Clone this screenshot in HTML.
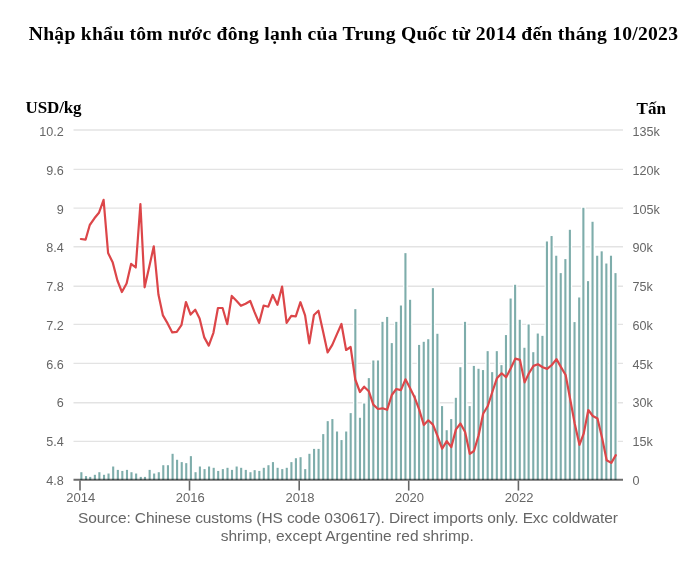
<!DOCTYPE html>
<html><head><meta charset="utf-8"><style>
html,body{margin:0;padding:0;background:#fff;}
body{width:700px;height:561px;overflow:hidden;position:relative;}
svg{position:absolute;left:0;top:0;will-change:transform;}
.t{font-family:"Liberation Sans",sans-serif;font-size:12.6px;fill:#666666;}
.h{font-family:"Liberation Serif",serif;font-weight:bold;fill:#000;}
.s{font-family:"Liberation Sans",sans-serif;font-size:15.5px;fill:#666666;}
</style></head><body>
<svg width="700" height="561" viewBox="0 0 700 561">
<text x="353.35" y="40.2" text-anchor="middle" class="h" style="font-size:19.6px" textLength="649.2" lengthAdjust="spacing">Nhập khẩu tôm nước đông lạnh của Trung Quốc từ 2014 đến tháng 10/2023</text>
<text x="25.6" y="113" class="h" style="font-size:17px" textLength="56.0" lengthAdjust="spacing">USD/kg</text>
<text x="636.6" y="114" class="h" style="font-size:17px" textLength="29.4" lengthAdjust="spacing">Tấn</text>
<line x1="73.5" x2="623" y1="130.00" y2="130.00" stroke="#e3e3e3" stroke-width="1.4"/>
<line x1="73.5" x2="623" y1="169.40" y2="169.40" stroke="#e3e3e3" stroke-width="1.4"/>
<line x1="73.5" x2="623" y1="208.10" y2="208.10" stroke="#e3e3e3" stroke-width="1.4"/>
<line x1="73.5" x2="623" y1="246.80" y2="246.80" stroke="#e3e3e3" stroke-width="1.4"/>
<line x1="73.5" x2="623" y1="286.30" y2="286.30" stroke="#e3e3e3" stroke-width="1.4"/>
<line x1="73.5" x2="623" y1="324.40" y2="324.40" stroke="#e3e3e3" stroke-width="1.4"/>
<line x1="73.5" x2="623" y1="363.35" y2="363.35" stroke="#e3e3e3" stroke-width="1.4"/>
<line x1="73.5" x2="623" y1="402.80" y2="402.80" stroke="#e3e3e3" stroke-width="1.4"/>
<line x1="73.5" x2="623" y1="441.35" y2="441.35" stroke="#e3e3e3" stroke-width="1.4"/>
<g fill="#7eadab" stroke="#fff" stroke-width="2.6" paint-order="stroke"><rect x="80.32" y="472.22" width="2.1" height="7.78"/><rect x="84.97" y="476.11" width="2.1" height="3.89"/><rect x="89.17" y="476.89" width="2.1" height="3.11"/><rect x="93.82" y="474.81" width="2.1" height="5.19"/><rect x="98.32" y="472.22" width="2.1" height="7.78"/><rect x="102.98" y="474.81" width="2.1" height="5.19"/><rect x="107.48" y="473.52" width="2.1" height="6.48"/><rect x="112.13" y="466.52" width="2.1" height="13.48"/><rect x="116.78" y="469.89" width="2.1" height="10.11"/><rect x="121.28" y="470.93" width="2.1" height="9.07"/><rect x="125.93" y="469.89" width="2.1" height="10.11"/><rect x="130.43" y="472.22" width="2.1" height="7.78"/><rect x="135.08" y="473.52" width="2.1" height="6.48"/><rect x="139.73" y="476.89" width="2.1" height="3.11"/><rect x="143.93" y="476.89" width="2.1" height="3.11"/><rect x="148.59" y="469.89" width="2.1" height="10.11"/><rect x="153.09" y="473.52" width="2.1" height="6.48"/><rect x="157.74" y="472.22" width="2.1" height="7.78"/><rect x="162.24" y="465.22" width="2.1" height="14.78"/><rect x="166.89" y="465.22" width="2.1" height="14.78"/><rect x="171.54" y="453.81" width="2.1" height="26.19"/><rect x="176.04" y="459.78" width="2.1" height="20.22"/><rect x="180.69" y="462.11" width="2.1" height="17.89"/><rect x="185.19" y="463.15" width="2.1" height="16.85"/><rect x="189.84" y="456.15" width="2.1" height="23.85"/><rect x="194.50" y="472.22" width="2.1" height="7.78"/><rect x="198.85" y="466.52" width="2.1" height="13.48"/><rect x="203.50" y="469.11" width="2.1" height="10.89"/><rect x="208.00" y="466.52" width="2.1" height="13.48"/><rect x="212.65" y="467.81" width="2.1" height="12.19"/><rect x="217.15" y="470.93" width="2.1" height="9.07"/><rect x="221.80" y="469.11" width="2.1" height="10.89"/><rect x="226.45" y="467.81" width="2.1" height="12.19"/><rect x="230.95" y="469.89" width="2.1" height="10.11"/><rect x="235.61" y="466.52" width="2.1" height="13.48"/><rect x="240.11" y="467.81" width="2.1" height="12.19"/><rect x="244.76" y="469.89" width="2.1" height="10.11"/><rect x="249.41" y="472.22" width="2.1" height="7.78"/><rect x="253.61" y="470.15" width="2.1" height="9.85"/><rect x="258.26" y="470.93" width="2.1" height="9.07"/><rect x="262.76" y="467.81" width="2.1" height="12.19"/><rect x="267.41" y="465.22" width="2.1" height="14.78"/><rect x="271.91" y="462.11" width="2.1" height="17.89"/><rect x="276.56" y="467.81" width="2.1" height="12.19"/><rect x="281.22" y="469.11" width="2.1" height="10.89"/><rect x="285.72" y="467.81" width="2.1" height="12.19"/><rect x="290.37" y="462.11" width="2.1" height="17.89"/><rect x="294.87" y="458.22" width="2.1" height="21.78"/><rect x="299.52" y="457.19" width="2.1" height="22.81"/><rect x="304.17" y="469.11" width="2.1" height="10.89"/><rect x="308.37" y="453.81" width="2.1" height="26.19"/><rect x="313.02" y="448.89" width="2.1" height="31.11"/><rect x="317.52" y="448.89" width="2.1" height="31.11"/><rect x="322.18" y="434.11" width="2.1" height="45.89"/><rect x="326.68" y="421.15" width="2.1" height="58.85"/><rect x="331.33" y="419.07" width="2.1" height="60.93"/><rect x="335.98" y="431.52" width="2.1" height="48.48"/><rect x="340.48" y="440.07" width="2.1" height="39.93"/><rect x="345.13" y="431.52" width="2.1" height="48.48"/><rect x="349.63" y="413.11" width="2.1" height="66.89"/><rect x="354.28" y="309.15" width="2.1" height="170.85"/><rect x="358.93" y="417.78" width="2.1" height="62.22"/><rect x="363.13" y="403.52" width="2.1" height="76.48"/><rect x="367.79" y="378.11" width="2.1" height="101.89"/><rect x="372.29" y="360.48" width="2.1" height="119.52"/><rect x="376.94" y="360.48" width="2.1" height="119.52"/><rect x="381.44" y="321.85" width="2.1" height="158.15"/><rect x="386.09" y="316.93" width="2.1" height="163.07"/><rect x="390.74" y="343.11" width="2.1" height="136.89"/><rect x="395.24" y="321.85" width="2.1" height="158.15"/><rect x="399.89" y="305.52" width="2.1" height="174.48"/><rect x="404.39" y="253.15" width="2.1" height="226.85"/><rect x="409.04" y="299.81" width="2.1" height="180.19"/><rect x="413.70" y="395.48" width="2.1" height="84.52"/><rect x="418.05" y="344.93" width="2.1" height="135.07"/><rect x="422.70" y="341.81" width="2.1" height="138.19"/><rect x="427.20" y="339.22" width="2.1" height="140.78"/><rect x="431.85" y="288.15" width="2.1" height="191.85"/><rect x="436.35" y="333.78" width="2.1" height="146.22"/><rect x="441.00" y="406.11" width="2.1" height="73.89"/><rect x="445.65" y="430.22" width="2.1" height="49.78"/><rect x="450.15" y="419.07" width="2.1" height="60.93"/><rect x="454.81" y="397.81" width="2.1" height="82.19"/><rect x="459.31" y="367.22" width="2.1" height="112.78"/><rect x="463.96" y="321.85" width="2.1" height="158.15"/><rect x="468.61" y="406.11" width="2.1" height="73.89"/><rect x="472.81" y="365.93" width="2.1" height="114.07"/><rect x="477.46" y="368.78" width="2.1" height="111.22"/><rect x="481.96" y="370.07" width="2.1" height="109.93"/><rect x="486.61" y="351.15" width="2.1" height="128.85"/><rect x="491.11" y="372.15" width="2.1" height="107.85"/><rect x="495.76" y="351.15" width="2.1" height="128.85"/><rect x="500.42" y="365.15" width="2.1" height="114.85"/><rect x="504.92" y="335.07" width="2.1" height="144.93"/><rect x="509.57" y="298.52" width="2.1" height="181.48"/><rect x="514.07" y="284.78" width="2.1" height="195.22"/><rect x="518.72" y="319.78" width="2.1" height="160.22"/><rect x="523.37" y="347.78" width="2.1" height="132.22"/><rect x="527.57" y="324.44" width="2.1" height="155.56"/><rect x="532.22" y="352.19" width="2.1" height="127.81"/><rect x="536.72" y="333.52" width="2.1" height="146.48"/><rect x="541.38" y="335.85" width="2.1" height="144.15"/><rect x="545.88" y="241.48" width="2.1" height="238.52"/><rect x="550.53" y="236.04" width="2.1" height="243.96"/><rect x="555.18" y="255.74" width="2.1" height="224.26"/><rect x="559.68" y="273.11" width="2.1" height="206.89"/><rect x="564.33" y="259.11" width="2.1" height="220.89"/><rect x="568.83" y="229.81" width="2.1" height="250.19"/><rect x="573.48" y="322.11" width="2.1" height="157.89"/><rect x="578.13" y="297.48" width="2.1" height="182.52"/><rect x="582.33" y="207.78" width="2.1" height="272.22"/><rect x="586.99" y="281.15" width="2.1" height="198.85"/><rect x="591.49" y="221.78" width="2.1" height="258.22"/><rect x="596.14" y="255.74" width="2.1" height="224.26"/><rect x="600.64" y="251.33" width="2.1" height="228.67"/><rect x="605.29" y="263.52" width="2.1" height="216.48"/><rect x="609.94" y="255.74" width="2.1" height="224.26"/><rect x="614.44" y="273.11" width="2.1" height="206.89"/></g>
<line x1="73.5" x2="623" y1="479.8" y2="479.8" stroke="#000" stroke-opacity="0.58" stroke-width="1.9"/>
<line x1="80.00" x2="80.00" y1="480.75" y2="490.6" stroke="#000" stroke-opacity="0.6" stroke-width="1.6"/>
<text x="80.70" y="501.7" text-anchor="middle" class="t" style="font-size:13px">2014</text>
<line x1="189.52" x2="189.52" y1="480.75" y2="490.6" stroke="#000" stroke-opacity="0.6" stroke-width="1.6"/>
<text x="190.22" y="501.7" text-anchor="middle" class="t" style="font-size:13px">2016</text>
<line x1="299.20" x2="299.20" y1="480.75" y2="490.6" stroke="#000" stroke-opacity="0.6" stroke-width="1.6"/>
<text x="299.90" y="501.7" text-anchor="middle" class="t" style="font-size:13px">2018</text>
<line x1="408.72" x2="408.72" y1="480.75" y2="490.6" stroke="#000" stroke-opacity="0.6" stroke-width="1.6"/>
<text x="409.42" y="501.7" text-anchor="middle" class="t" style="font-size:13px">2020</text>
<line x1="518.40" x2="518.40" y1="480.75" y2="490.6" stroke="#000" stroke-opacity="0.6" stroke-width="1.6"/>
<text x="519.10" y="501.7" text-anchor="middle" class="t" style="font-size:13px">2022</text>
<polyline points="80.90,239.0 85.56,239.7 89.77,225.0 94.42,218.3 98.93,212.8 103.59,199.8 108.10,253.0 112.76,262.6 117.41,280.5 121.92,292.0 126.58,283.4 131.09,263.9 135.74,267.5 140.40,204.0 144.61,287.3 149.27,266.7 153.78,246.3 158.43,294.5 162.94,315.4 167.60,323.4 172.26,332.4 176.77,331.9 181.42,325.2 185.93,302.0 190.59,314.6 195.25,309.7 199.60,318.4 204.26,337.4 208.77,345.6 213.43,332.8 217.94,308.0 222.59,308.0 227.25,324.2 231.76,295.9 236.42,300.7 240.93,305.8 245.58,303.7 250.24,301.0 254.45,311.9 259.11,322.9 263.62,305.5 268.27,306.7 272.78,295.0 277.44,304.8 282.10,286.6 286.60,322.8 291.26,315.8 295.77,316.4 300.43,302.2 305.09,315.4 309.29,343.3 313.95,315.0 318.46,310.7 323.12,331.8 327.63,352.4 332.28,344.9 336.94,334.1 341.45,324.0 346.11,350.0 350.61,347.0 355.27,379.5 359.93,392.0 364.14,386.7 368.80,391.2 373.30,404.6 377.96,409.0 382.47,408.3 387.13,409.8 391.79,395.0 396.29,389.0 400.95,390.1 405.46,379.3 410.12,388.3 414.78,397.8 419.13,409.4 423.79,425.0 428.30,420.3 432.96,424.6 437.46,435.8 442.12,448.7 446.78,441.2 451.29,447.1 455.95,429.4 460.45,423.5 465.11,432.1 469.77,453.8 473.98,451.0 478.64,435.3 483.14,413.7 487.80,406.0 492.31,392.0 496.97,378.2 501.62,373.3 506.13,377.3 510.79,368.2 515.30,358.6 519.96,359.9 524.61,382.4 528.82,373.5 533.48,365.9 537.99,364.3 542.65,367.2 547.15,368.9 551.81,365.0 556.47,359.1 560.98,367.1 565.64,375.0 570.14,399.0 574.80,424.0 579.46,444.8 583.67,433.7 588.32,410.0 592.83,416.0 597.49,418.5 602.00,437.4 606.66,460.2 611.31,462.9 615.82,455.1" fill="none" stroke="#dc4649" stroke-width="2.2" stroke-linejoin="round" stroke-linecap="round"/>
<text x="63.8" y="136.10" text-anchor="end" class="t">10.2</text>
<text x="632.4" y="136.10" class="t">135k</text>
<text x="63.8" y="174.85" text-anchor="end" class="t">9.6</text>
<text x="632.4" y="174.85" class="t">120k</text>
<text x="63.8" y="213.60" text-anchor="end" class="t">9</text>
<text x="632.4" y="213.60" class="t">105k</text>
<text x="63.8" y="252.35" text-anchor="end" class="t">8.4</text>
<text x="632.4" y="252.35" class="t">90k</text>
<text x="63.8" y="291.10" text-anchor="end" class="t">7.8</text>
<text x="632.4" y="291.10" class="t">75k</text>
<text x="63.8" y="329.85" text-anchor="end" class="t">7.2</text>
<text x="632.4" y="329.85" class="t">60k</text>
<text x="63.8" y="368.60" text-anchor="end" class="t">6.6</text>
<text x="632.4" y="368.60" class="t">45k</text>
<text x="63.8" y="407.35" text-anchor="end" class="t">6</text>
<text x="632.4" y="407.35" class="t">30k</text>
<text x="63.8" y="446.10" text-anchor="end" class="t">5.4</text>
<text x="632.4" y="446.10" class="t">15k</text>
<text x="63.8" y="484.85" text-anchor="end" class="t">4.8</text>
<text x="632.4" y="484.85" class="t">0</text>
<text x="347.9" y="523" text-anchor="middle" class="s" textLength="540" lengthAdjust="spacing">Source: Chinese customs (HS code 030617). Direct imports only. Exc coldwater</text>
<text x="347.25" y="540.7" text-anchor="middle" class="s" textLength="253.1" lengthAdjust="spacing">shrimp, except Argentine red shrimp.</text>
</svg>
</body></html>
